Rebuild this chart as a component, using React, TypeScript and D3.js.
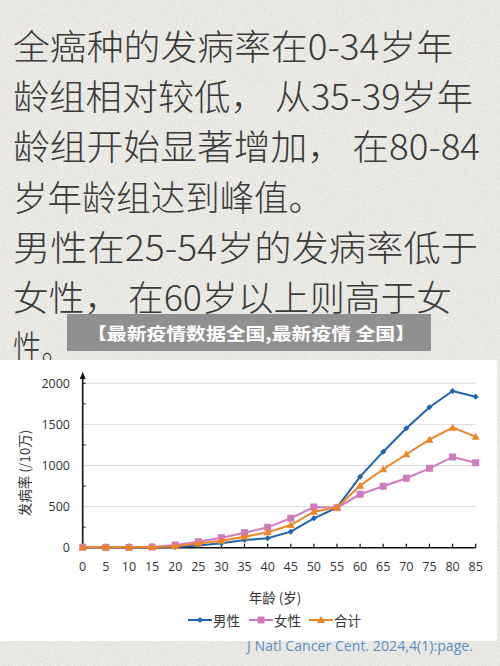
import React from "react";
import * as d3 from "d3";

const ages = [0, 5, 10, 15, 20, 25, 30, 35, 40, 45, 50, 55, 60, 65, 70, 75, 80, 85];
const male = [5, 4, 4, 6, 10, 26, 55, 94, 114, 195, 358, 487, 864, 1168, 1453, 1708, 1906, 1837];
const female = [6, 4, 4, 8, 33, 73, 122, 183, 248, 358, 495, 487, 650, 747, 845, 966, 1104, 1034];
const total = [6, 4, 4, 7, 17, 50, 85, 134, 187, 276, 438, 487, 755, 954, 1137, 1314, 1460, 1351];
const yTicks = [0, 500, 1000, 1500, 2000];
const yMinorTicks = [250, 750, 1250, 1750, 2000];
const seriesNames = ["男性", "女性", "合计"];
const noteLines = [
  "全癌种的发病率在0-34岁年",
  "龄组相对较低，  从35-39岁年",
  "龄组开始显著增加，  在80-84",
  "岁年龄组达到峰值。",
  "男性在25-54岁的发病率低于",
  "女性，  在60岁以上则高于女",
  "性。",
];
const bannerText = "【最新疫情数据全国,最新疫情 全国】";
const sourceText = "J Natl Cancer Cent. 2024,4(1):page.";
const xTitle = "年龄 (岁)";
const yTitle = "发病率 (/10万)";

const W = 500;
const H = 666;
const lineCenters = [44, 94, 144, 195, 245, 295, 345];
const lineEnds = [453, 473, 480, 323, 478, 452, 70];
const colors = ["#1f63ad", "#cf7bbd", "#ef8424"];

const x = d3.scaleLinear().domain([0, 85]).range([82.7, 475.7]);
const y = d3.scaleLinear().domain([0, 2000]).range([547.7, 383.3]);

function Marker({ kind, cx, cy, color }: { kind: number; cx: number; cy: number; color: string }) {
  if (kind === 0) {
    const s = 3;
    return <path d={`M${cx},${cy - s}L${cx + s},${cy}L${cx},${cy + s}L${cx - s},${cy}Z`} fill={color} />;
  }
  if (kind === 1) {
    return <rect x={cx - 3.5} y={cy - 3.5} width={7} height={7} fill={color} />;
  }
  const s = 4;
  return <path d={`M${cx},${cy - s}L${cx + s},${cy + s * 0.75}L${cx - s},${cy + s * 0.75}Z`} fill={color} />;
}

export default function App() {
  const data = [male, female, total];
  const line = d3
    .line<number>()
    .x((_, i) => x(ages[i]))
    .y((d) => y(d));
  const cjk = "'Noto Sans CJK SC', 'Noto Sans', sans-serif";
  const legendX = [188, 249, 309];

  return (
    <svg width={W} height={H} style={{ position: "absolute", left: 0, top: 0 }}>
      <defs>
        <filter id="paper" x="0" y="0" width="100%" height="100%">
          <feTurbulence type="fractalNoise" baseFrequency="0.9" numOctaves="3" seed="4" result="n" />
          <feColorMatrix
            in="n"
            type="matrix"
            values="0 0 0 0 0.45  0 0 0 0 0.45  0 0 0 0 0.43  0.6 0 0 0 -0.22"
          />
        </filter>
      </defs>
      <rect x={0} y={0} width={W} height={H} fill="#eeede8" />
      <rect x={0} y={0} width={W} height={H} fill="#fff" filter="url(#paper)" />

      {noteLines.map((t, i) => (
        <text
          key={i}
          x={13}
          y={lineCenters[i]}
          dominantBaseline="central"
          fontFamily={cjk}
          fontSize={35}
          fontWeight={300}
          fill="#3a3a3a"
          textLength={lineEnds[i] - 13}
          lengthAdjust="spacingAndGlyphs"
        >
          {t}
        </text>
      ))}

      <rect x={67} y={314} width={364} height={37} fill="#8b8b8b" opacity={0.95} />
      <text
        x={251}
        y={332.5}
        textAnchor="middle"
        dominantBaseline="central"
        fontFamily={cjk}
        fontSize={17}
        fontWeight={700}
        fill="#fff"
        textLength={328}
        lengthAdjust="spacingAndGlyphs"
      >
        {bannerText}
      </text>

      <rect x={0} y={360} width={497} height={281} fill="#ffffff" />

      {yTicks.slice(1).map((t) => (
        <line key={t} x1={x(0)} x2={x(85)} y1={y(t)} y2={y(t)} stroke="#d9d9d9" strokeWidth={1} />
      ))}
      {yTicks.map((t) => (
        <text
          key={t}
          x={70}
          y={y(t)}
          textAnchor="end"
          dominantBaseline="central"
          fontFamily="'Open Sans', sans-serif"
          fontSize={12.5}
          fill="#333"
        >
          {t}
        </text>
      ))}
      {yMinorTicks.map((t) => (
        <line key={t} x1={x(0)} x2={x(0) + 3} y1={y(t)} y2={y(t)} stroke="#222" strokeWidth={1} />
      ))}
      <line x1={x(0)} x2={x(0)} y1={y(0)} y2={376} stroke="#111" strokeWidth={1.6} />
      <path d={`M${x(0)},372L${x(0) + 3},379L${x(0) - 3},379Z`} fill="#111" />
      <line x1={x(0)} x2={x(85)} y1={y(0)} y2={y(0)} stroke="#111" strokeWidth={1.6} />
      {ages.map((a) => (
        <line key={a} x1={x(a)} x2={x(a)} y1={y(0)} y2={y(0) - 4} stroke="#111" strokeWidth={1.2} />
      ))}
      {ages.map((a) => (
        <text
          key={a}
          x={x(a)}
          y={566}
          textAnchor="middle"
          dominantBaseline="central"
          fontFamily="'Open Sans', sans-serif"
          fontSize={12.5}
          fill="#333"
        >
          {a}
        </text>
      ))}

      {data.map((s, k) => (
        <g key={k}>
          <path d={line(s) || ""} fill="none" stroke={colors[k]} strokeWidth={2} />
          {s.map((v, i) => (
            <Marker key={i} kind={k} cx={x(ages[i])} cy={y(v)} color={colors[k]} />
          ))}
        </g>
      ))}

      <text
        x={275}
        y={597}
        textAnchor="middle"
        dominantBaseline="central"
        fontFamily={cjk}
        fontSize={13.5}
        fill="#333"
      >
        {xTitle}
      </text>
      <text
        transform={`translate(24,473) rotate(-90)`}
        textAnchor="middle"
        dominantBaseline="central"
        fontFamily={cjk}
        fontSize={13.5}
        fill="#333"
      >
        {yTitle}
      </text>

      {seriesNames.map((n, k) => (
        <g key={n}>
          <line x1={legendX[k]} x2={legendX[k] + 24} y1={620} y2={620} stroke={colors[k]} strokeWidth={2} />
          <Marker kind={k} cx={legendX[k] + 12} cy={620} color={colors[k]} />
          <text
            x={legendX[k] + 25}
            y={620}
            dominantBaseline="central"
            fontFamily={cjk}
            fontSize={13.5}
            fill="#333"
          >
            {n}
          </text>
        </g>
      ))}

      <text
        x={247}
        y={645}
        dominantBaseline="central"
        fontFamily="'Open Sans', sans-serif"
        fontSize={14}
        fill="#5a8fc6"
        textLength={226}
        lengthAdjust="spacingAndGlyphs"
      >
        {sourceText}
      </text>
    </svg>
  );
}
